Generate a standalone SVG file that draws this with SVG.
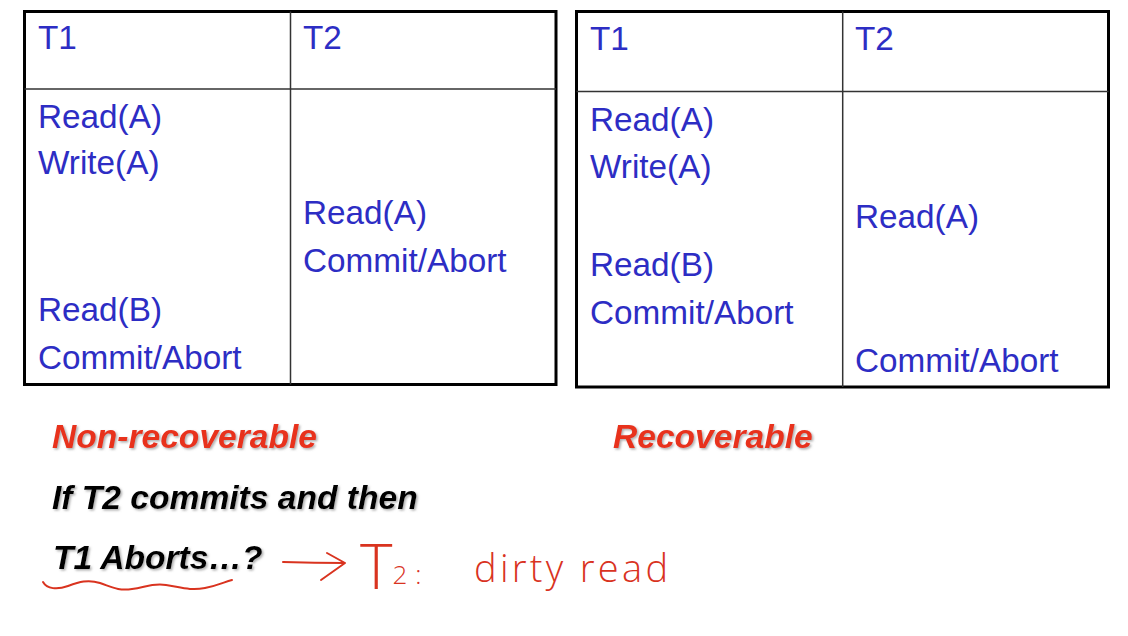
<svg xmlns="http://www.w3.org/2000/svg" width="1128" height="636" viewBox="0 0 1128 636">
  <defs>
    <style>
      .frame { fill: none; stroke: #000; stroke-width: 3; }
      .grid { stroke: #333; stroke-width: 1.5; fill: none; }
      .op { font-family: "Liberation Sans", Arial, sans-serif; font-size: 33.3px; fill: #2d2dc4; }
      .label { font-family: "Liberation Sans", Arial, sans-serif; font-size: 33.6px; font-weight: bold; font-style: italic; filter: url(#shadow); }
      .red { fill: #e8321e; }
      .dark { fill: #000; }
      .ink { fill: none; stroke: #d9331f; stroke-width: 2; stroke-linecap: round; stroke-linejoin: round; }
      .hand { font-family: "Open Sans", "Liberation Sans", sans-serif; font-weight: 300; fill: #d9331f; }
    </style>
    <filter id="shadow" x="-5%" y="-20%" width="110%" height="150%">
      <feDropShadow dx="1.5" dy="1.5" stdDeviation="1" flood-color="#777" flood-opacity="0.6"/>
    </filter>
  </defs>

  <rect width="1128" height="636" fill="#fff"/>

  <!-- Left schedule: non-recoverable -->
  <g id="schedule-left">
    <rect class="frame" x="24.5" y="11.5" width="531.5" height="373"/>
    <line class="grid" x1="290.5" y1="11.5" x2="290.5" y2="384.5"/>
    <line class="grid" x1="24.5" y1="89" x2="556" y2="89"/>
    <text class="op" x="38" y="49">T1</text>
    <text class="op" x="303" y="49">T2</text>
    <text class="op" x="38" y="128">Read(A)</text>
    <text class="op" x="38" y="174">Write(A)</text>
    <text class="op" x="303" y="224">Read(A)</text>
    <text class="op" x="303" y="272">Commit/Abort</text>
    <text class="op" x="38" y="321">Read(B)</text>
    <text class="op" x="38" y="369">Commit/Abort</text>
  </g>

  <!-- Right schedule: recoverable -->
  <g id="schedule-right">
    <rect class="frame" x="576.5" y="11.5" width="532" height="375.5"/>
    <line class="grid" x1="842.7" y1="11.5" x2="842.7" y2="387"/>
    <line class="grid" x1="576.5" y1="91.5" x2="1108.5" y2="91.5"/>
    <text class="op" x="590" y="50">T1</text>
    <text class="op" x="855" y="50">T2</text>
    <text class="op" x="590" y="131">Read(A)</text>
    <text class="op" x="590" y="178">Write(A)</text>
    <text class="op" x="855" y="228">Read(A)</text>
    <text class="op" x="590" y="276">Read(B)</text>
    <text class="op" x="590" y="324">Commit/Abort</text>
    <text class="op" x="855" y="372">Commit/Abort</text>
  </g>

  <!-- Captions -->
  <g id="captions">
    <text class="label red" x="52" y="448">Non-recoverable</text>
    <text class="label red" x="613" y="448">Recoverable</text>
    <text class="label dark" x="52" y="509">If T2 commits and then</text>
    <text class="label dark" x="53" y="569">T1 Aborts…?</text>
  </g>

  <!-- Handwritten note -->
  <g id="note">
    <path class="ink" d="M43,582 C47,589 57,590 68,586 S88,579 100,583 S118,591 132,589 S152,583 166,585 S190,591 205,588 S224,582 232,580"/>
    <path class="ink" d="M283,562 Q315,563 345,563 M327,553 L345,563 L321,580"/>
    <text class="hand" x="360" y="589" font-size="62">T<tspan font-size="26" dy="-5">2</tspan><tspan font-size="26" dx="8">:</tspan></text>
    <text class="hand" x="474" y="582" font-size="38" textLength="194" lengthAdjust="spacing">dirty read</text>
  </g>
</svg>
